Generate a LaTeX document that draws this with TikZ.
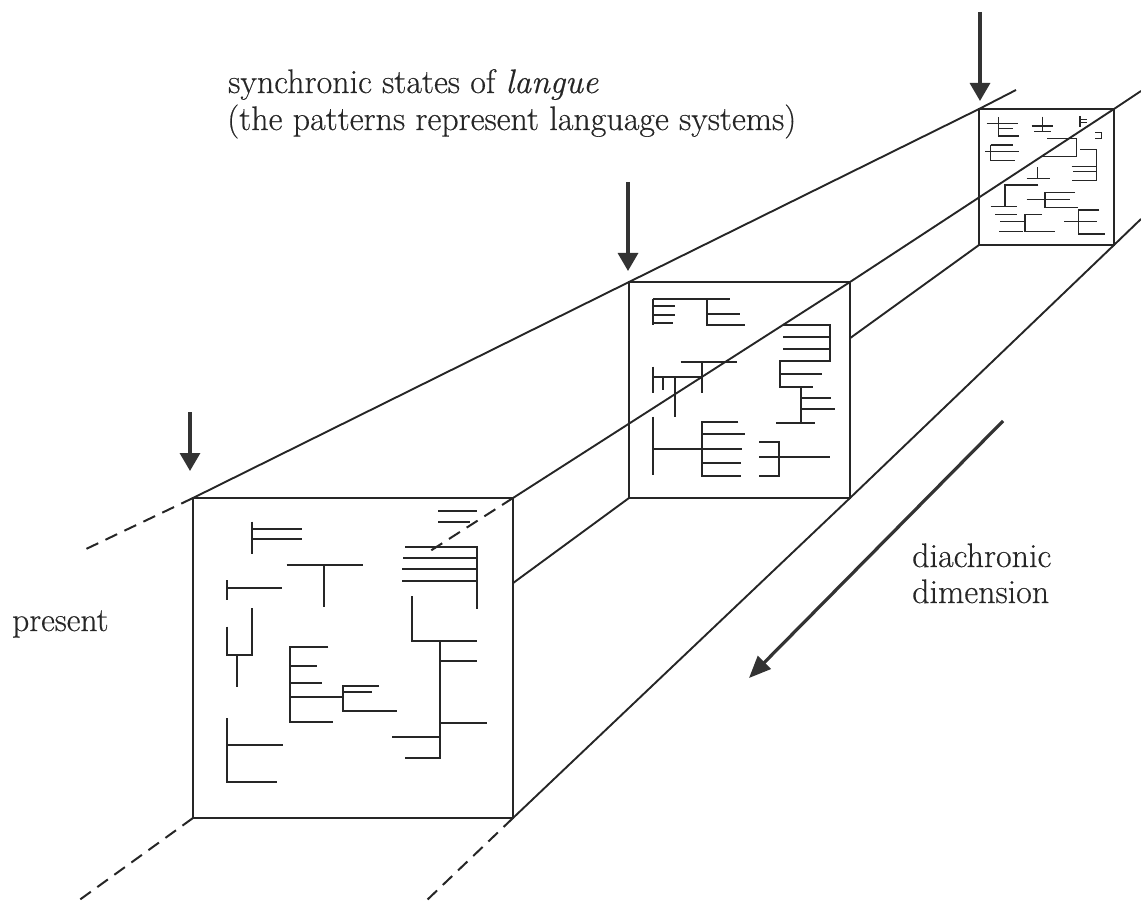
\documentclass[tikz,border=0pt]{standalone}
\usepackage{fontspec}
\newfontfamily\lblfont{Latin Modern Roman}[FakeBold=0.4]
\usetikzlibrary{arrows.meta}
\begin{document}
\begin{tikzpicture}[x=1pt,y=-1pt,
  ink/.style={draw=black!85},
  frame/.style={ink,line width=2.5pt,line join=miter},
  edge/.style={ink,line width=1.9pt},
  dashedge/.style={ink,line width=2pt,dash pattern=on 13pt off 8pt},
  pat/.style={ink,line width=1.7pt},
  patsmall/.style={ink,line width=1.4pt},
  marker/.style={draw=black!80,line width=3.2pt,-{Triangle[length=18pt,width=20pt]}},
  lbl/.style={inner sep=0pt,anchor=base west,text=black!85,font=\lblfont\fontsize{34}{40}\selectfont}]
\useasboundingbox (0,0) rectangle (1141,901);
% corners
\coordinate (FTL) at (193,498); \coordinate (FTR) at (513,498);
\coordinate (FBL) at (193,818); \coordinate (FBR) at (513,818);
\coordinate (MTL) at (629,282); \coordinate (MTR) at (850,282);
\coordinate (MBL) at (629,498); \coordinate (MBR) at (850,498);
\coordinate (BTL) at (979,109); \coordinate (BTR) at (1114,109);
\coordinate (BBL) at (979,245); \coordinate (BBR) at (1114,245);
% line ends
\coordinate (TLend) at (1016,90);
\coordinate (TRend) at (1141,91);
\coordinate (BRend) at (1141,219);
\coordinate (dTL) at (84,550);
\coordinate (dTR) at (427,553);
\coordinate (dBL) at (78,901);
\coordinate (dBR) at (426,901);
\coordinate (BLa) at (513,583.1);
\coordinate (BLb) at (850,338.2);
% perspective edges
\draw[edge] (FTL) -- (MTL) -- (BTL) -- (TLend);
\draw[edge] (FTR) -- (MTR) -- (BTR) -- (TRend);
\draw[edge] (FBR) -- (MBR) -- (BBR) -- (BRend);
\draw[edge] (BLa) -- (MBL);
\draw[edge] (BLb) -- (BBL);
\draw[dashedge] (FTL) -- (dTL);
\draw[dashedge] (FTR) -- (dTR);
\draw[dashedge] (FBL) -- (dBL);
\draw[dashedge] (FBR) -- (dBR);
% frames
\draw[frame] (FTL) rectangle (FBR);
\draw[frame] (MTL) rectangle (MBR);
\draw[frame] (BTL) rectangle (BBR);
% front pattern
\draw[pat]
 (251.7,521.7)--(251.7,554)
 (251.7,529.3)--(301.7,529.3)
 (251.7,539.3)--(301.7,539.3)
 (286.7,565)--(363.3,565)
 (324,565)--(324,606.7)
 (226.7,580)--(226.7,600)
 (226.7,588.3)--(281.7,588.3)
 (226.7,626.7)--(226.7,655)--(251.7,655)--(251.7,608.3)
 (236.7,655)--(236.7,686.7)
 (328.3,646.7)--(290,646.7)--(290,721.7)--(332.7,721.7)
 (290,666)--(316.7,666)
 (290,683.3)--(321.7,683.3)
 (290,697.3)--(343.3,697.3)
 (379,686)--(343.3,686)--(343.3,710.7)--(397.3,710.7)
 (343.3,691.7)--(371.7,691.7)
 (226.7,718.3)--(226.7,781.7)--(277.3,781.7)
 (226.7,745)--(282.7,745)
 (438.3,510.7)--(476.7,510.7)
 (438.3,521.7)--(470,521.7)
 (405,546.7)--(476.7,546.7)--(476.7,609.3)
 (403,557.7)--(476.7,557.7)
 (402,569.3)--(476.7,569.3)
 (402,580.7)--(476.7,580.7)
 (412.3,596)--(412.3,640.7)--(476.7,640.7)
 (440,640.7)--(440,758.3)--(405,758.3)
 (440,660.7)--(476.7,660.7)
 (440,723.3)--(486.7,723.3)
 (392.3,736.7)--(440,736.7);
% middle pattern
\draw[pat]
 (652.7,299.3)--(652.7,325)
 (652.7,299.3)--(730,299.3)
 (652.7,306)--(675,306)
 (652.7,315)--(675,315)
 (652.7,323.3)--(672.7,323.3)
 (707.3,299.3)--(707.3,325)--(745,325)
 (707.3,314)--(740,314)
 (783.3,325)--(830,325)--(830,360.7)--(780,360.7)--(780,386.7)--(813.3,386.7)
 (783.3,336.7)--(830,336.7)
 (783.3,349.3)--(830,349.3)
 (780,374)--(821.7,374)
 (801,386.7)--(801,422.7)
 (801,398.3)--(830.7,398.3)
 (801,409.3)--(835,409.3)
 (776,422.7)--(815,422.7)
 (680.7,361.7)--(736.7,361.7)
 (701.7,361.7)--(701.7,392.7)
 (652.7,366.7)--(652.7,393.3)
 (652.7,376.7)--(701.7,376.7)
 (662.7,376.7)--(662.7,390)
 (675,376.7)--(675,416.7)
 (652.7,416.7)--(652.7,475)
 (652.7,449.3)--(741.7,449.3)
 (738.3,421.7)--(701.7,421.7)--(701.7,476)--(740.7,476)
 (701.7,434)--(745,434)
 (701.7,462.7)--(740.7,462.7)
 (759.3,441.7)--(779.3,441.7)--(779.3,476)--(759.3,476)
 (759.3,456.7)--(830,456.7);
% back pattern
\draw[patsmall]
 (998.3,117.3)--(998.3,136.7)
 (986.7,123.3)--(1018.3,123.3)
 (998.3,128.3)--(1013.3,128.3)
 (998.3,136)--(1019.3,136)
 (1042.7,116.7)--(1042.7,130.7)
 (1031.7,126)--(1053.3,126)
 (1034,131.7)--(1050.7,131.7)
 (1080,116)--(1080,126.7)
 (1080,119.3)--(1086.7,119.3)
 (1080,122.7)--(1086.7,122.7)
 (1095,132.7)--(1101.7,132.7)--(1101.7,138.3)--(1095,138.3)
 (1047.3,138.3)--(1076.7,138.3)--(1076.7,156.7)--(1041.7,156.7)
 (990.7,145)--(990.7,160.7)
 (990.7,145)--(1013.3,145)
 (985,151.7)--(1019.3,151.7)
 (990.7,160.7)--(1015,160.7)
 (1080,149.3)--(1096.7,149.3)--(1096.7,180.7)--(1071.7,180.7)
 (1071.7,166.7)--(1096.7,166.7)
 (1073,171.7)--(1096.7,171.7)
 (1037.3,167.3)--(1037.3,178.3)
 (1026.7,178.3)--(1050,178.3)
 (1038.3,185)--(1005,185)--(1005,206.7)
 (990.7,206.7)--(1017.3,206.7)
 (1075,192.7)--(1045,192.7)--(1045,207.3)--(1078.3,207.3)
 (1026.7,199.3)--(1070,199.3)
 (995,214.3)--(1017.3,214.3)
 (1000,221.7)--(1025,221.7)
 (999.3,231.7)--(1023.3,231.7)
 (1041.7,214.3)--(1025,214.3)--(1025,231.7)--(1055,231.7)
 (1099.3,210)--(1078.3,210)--(1078.3,234)--(1105,234)
 (1064,221.7)--(1096.7,221.7);
% arrows
\coordinate (a1s) at (190,412); \coordinate (a1e) at (190,471);
\coordinate (a2s) at (628,182); \coordinate (a2e) at (628,271);
\coordinate (a3s) at (980,12);  \coordinate (a3e) at (980,101);
\coordinate (a4s) at (1003,421); \coordinate (a4e) at (749,678);
\draw[marker] (a1s) -- (a1e);
\draw[marker] (a2s) -- (a2e);
\draw[marker] (a3s) -- (a3e);
\draw[marker,-{Triangle[length=22pt,width=18pt]}] (a4s) -- (a4e);
% labels
\node[lbl] (t1) at (228,93) {synchronic states of \textit{langue}};
\node[lbl] (t2) at (227,130) {(the patterns represent language systems)};
\node[lbl,font=\lblfont\fontsize{33.5}{40}\selectfont] (t3) at (12,631) {present};
\node[lbl] (t4) at (912,567) {diachronic};
\node[lbl] (t5) at (912,603) {dimension};
\end{tikzpicture}
\end{document}
